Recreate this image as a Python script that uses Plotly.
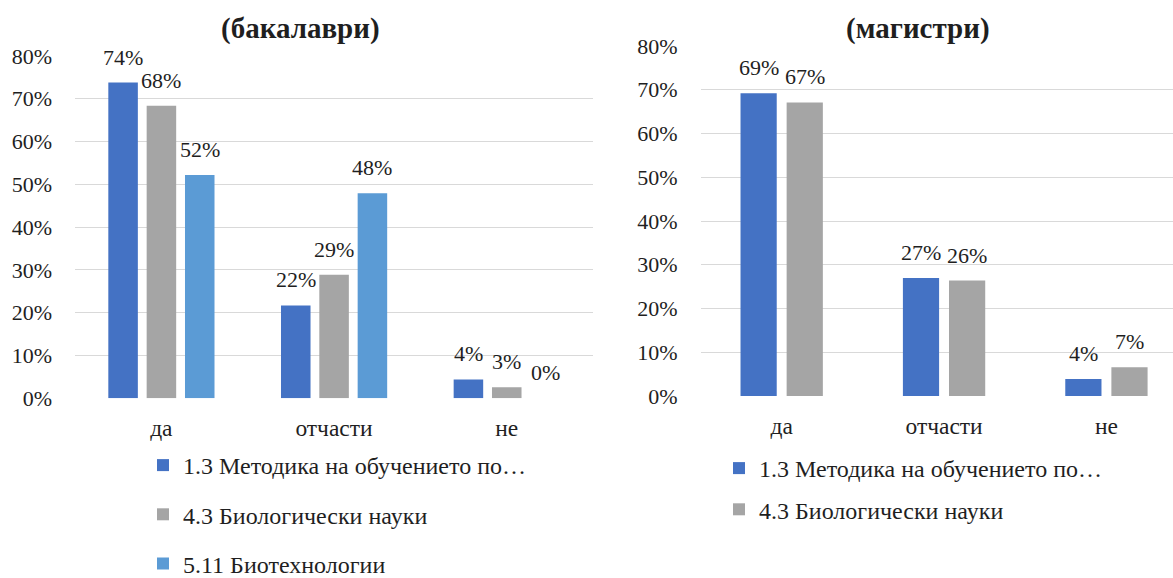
import plotly.graph_objects as go

categories = ["да", "отчасти", "не"]

series_names_bach = ["1.3 Методика на обучението по…", "4.3 Биологически науки", "5.11 Биотехнологии"]
bach_values = [
    [0.738, 0.217, 0.044],
    [0.684, 0.289, 0.026],
    [0.522, 0.479, 0.0],
]
bach_labels = [
    ["74%", "22%", "4%"],
    ["68%", "29%", "3%"],
    ["52%", "48%", "0%"],
]

series_names_mag = ["1.3 Методика на обучението по…", "4.3 Биологически науки"]
mag_values = [
    [0.692, 0.270, 0.039],
    [0.671, 0.264, 0.066],
]
mag_labels = [
    ["69%", "27%", "4%"],
    ["67%", "26%", "7%"],
]

y_ticks = [0, 0.1, 0.2, 0.3, 0.4, 0.5, 0.6, 0.7, 0.8]
y_ticktext = ["0%", "10%", "20%", "30%", "40%", "50%", "60%", "70%", "80%"]

title_bach = "(бакалаври)"
title_mag = "(магистри)"

colors_bach = ["#4472C4", "#A5A5A5", "#5B9BD5"]
colors_mag = ["#4472C4", "#A5A5A5"]

FONT = "'Times New Roman', 'Liberation Serif', 'DejaVu Serif', serif"
TXT = "#1f1f1f"
FS_TICK = 22
FS_LBL = 22
FS_CAT = 23.5
FS_LEG = 24
FS_TITLE = 29

W, H = 1173, 578

fig = go.Figure()

bw_l = 0.171
offs_l = [-0.307, -0.085, 0.137]
for i, name in enumerate(series_names_bach):
    fig.add_trace(go.Bar(
        x=categories, y=bach_values[i], name=name,
        marker=dict(color=colors_bach[i], line=dict(width=0)),
        width=bw_l, offset=offs_l[i],
        xaxis="x", yaxis="y", legend="legend", legendgroup="b%d" % i,
        hoverinfo="skip",
    ))

bw_r = 0.223
offs_r = [-0.2535, 0.0305]
for i, name in enumerate(series_names_mag):
    fig.add_trace(go.Bar(
        x=categories, y=mag_values[i], name=name,
        marker=dict(color=colors_mag[i], line=dict(width=0)),
        width=bw_r, offset=offs_r[i],
        xaxis="x2", yaxis="y2", legend="legend2", legendgroup="m%d" % i,
        hoverinfo="skip",
    ))

annotations = []
for i in range(len(series_names_bach)):
    for j, c in enumerate(categories):
        annotations.append(dict(
            x=j + offs_l[i] + bw_l / 2, y=bach_values[i][j], xref="x", yref="y",
            text=bach_labels[i][j], showarrow=False, yanchor="bottom", yshift=11,
            font=dict(family=FONT, size=FS_LBL, color=TXT),
        ))
for i in range(len(series_names_mag)):
    for j, c in enumerate(categories):
        annotations.append(dict(
            x=j + offs_r[i] + bw_r / 2, y=mag_values[i][j], xref="x2", yref="y2",
            text=mag_labels[i][j], showarrow=False, yanchor="bottom", yshift=11,
            font=dict(family=FONT, size=FS_LBL, color=TXT),
        ))

annotations.append(dict(x=300 / W, y=1 - 29 / H, xref="paper", yref="paper",
                        text="<b>%s</b>" % title_bach, showarrow=False,
                        xanchor="center", yanchor="middle",
                        font=dict(family=FONT, size=FS_TITLE, color=TXT)))
annotations.append(dict(x=918 / W, y=1 - 29 / H, xref="paper", yref="paper",
                        text="<b>%s</b>" % title_mag, showarrow=False,
                        xanchor="center", yanchor="middle",
                        font=dict(family=FONT, size=FS_TITLE, color=TXT)))

ycommon = dict(showline=False, zeroline=False, range=[0, 0.8],
               tickvals=y_ticks, ticktext=y_ticktext, showgrid=True,
               gridcolor="#D9D9D9", gridwidth=1.3, ticks="", ticklabelstandoff=22,
               tickfont=dict(family=FONT, size=FS_TICK, color=TXT))
xcommon = dict(showline=False, zeroline=False, type="category", showgrid=False,
               ticks="", ticklabelstandoff=13,
               tickfont=dict(family=FONT, size=FS_CAT, color=TXT))

fig.update_layout(
    width=W, height=H,
    margin=dict(l=0, r=0, t=0, b=0, autoexpand=False),
    paper_bgcolor="white", plot_bgcolor="white",
    barmode="overlay",
    showlegend=True,
    font=dict(family=FONT, size=FS_TICK, color=TXT),
    xaxis=dict(domain=[75 / W, 593 / W], range=[-0.5, 2.5], anchor="y", **xcommon),
    yaxis=dict(domain=[1 - 398.3 / H, 1 - 56 / H], anchor="x", **ycommon),
    xaxis2=dict(domain=[700.5 / W, 1.0], range=[-0.5, 2.41], anchor="y2", **xcommon),
    yaxis2=dict(domain=[1 - 396 / H, 1 - 46 / H], anchor="x2", **ycommon),
    legend=dict(x=143 / W, y=1 - 443 / H, xanchor="left", yanchor="top",
                orientation="v", tracegroupgap=15, bgcolor="rgba(0,0,0,0)",
                font=dict(family=FONT, size=FS_LEG, color=TXT), itemwidth=30,
                traceorder="grouped"),
    legend2=dict(x=719 / W, y=1 - 446 / H, xanchor="left", yanchor="top",
                 orientation="v", tracegroupgap=7, bgcolor="rgba(0,0,0,0)",
                 font=dict(family=FONT, size=FS_LEG, color=TXT), itemwidth=30,
                 traceorder="grouped"),
    annotations=annotations,
)

fig.write_html("out.html", config={"displayModeBar": False},
               post_script="document.body.style.margin='0';document.body.style.padding='0';")
